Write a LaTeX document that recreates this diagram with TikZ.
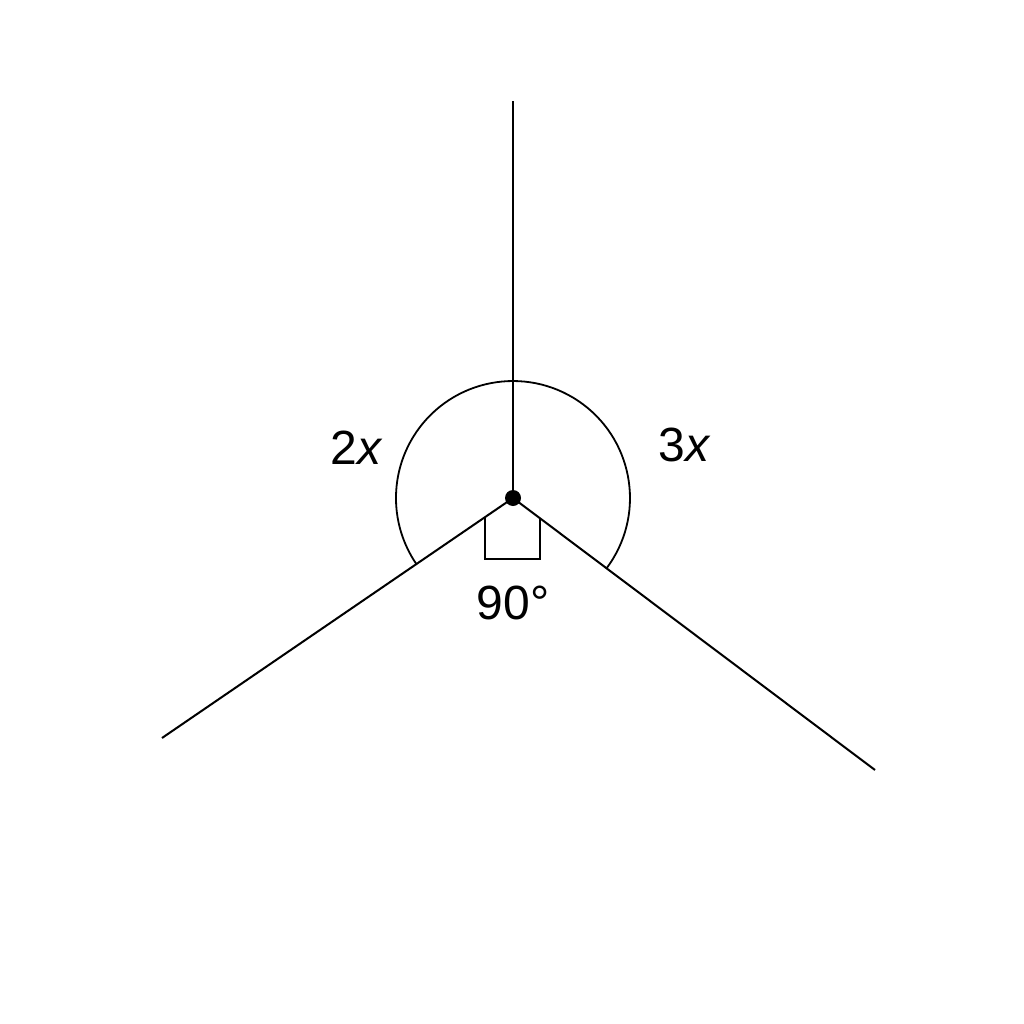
\documentclass[tikz,border=0pt]{standalone}
\usepackage{fontspec}
\setmainfont{Liberation Sans}
\usetikzlibrary{calc}
\begin{document}
\begin{tikzpicture}[x=1pt,y=-1pt,
  ray/.style={line width=2pt,black},
  thin line/.style={line width=1.8pt,black},
  lab/.style={font=\fontsize{48}{52}\selectfont,inner sep=0pt,anchor=center}]
\useasboundingbox[fill=white] (0,0) rectangle (1024,1024);
\coordinate (O) at (513,498);
\coordinate (T) at (513,101);
\coordinate (L) at (162,738);
\coordinate (R) at (875,770);
\coordinate (AR) at ($(O)!117pt!(R)$);
\draw[thin line] (AR) arc[start angle=36.9, end angle=-214.4, radius=117];
\draw[ray] (O) -- (T);
\draw[ray] (O) -- (L);
\draw[ray] (O) -- (R);
% right angle box
\coordinate (SL) at ($(O)!0.0798!(L)$);
\coordinate (SR) at ($(O)!0.0746!(R)$);
\draw[thin line] (SL) -- (SL |- 0,559) -- (SR |- 0,559) -- (SR);
\fill (O) circle[radius=8];
\node[lab] (a) at (357,448) {2\textit{x}};
\node[lab] (b) at (685,445) {3\textit{x}};
\node[lab] (c) at (513,603) {90°};
\end{tikzpicture}
\end{document}
